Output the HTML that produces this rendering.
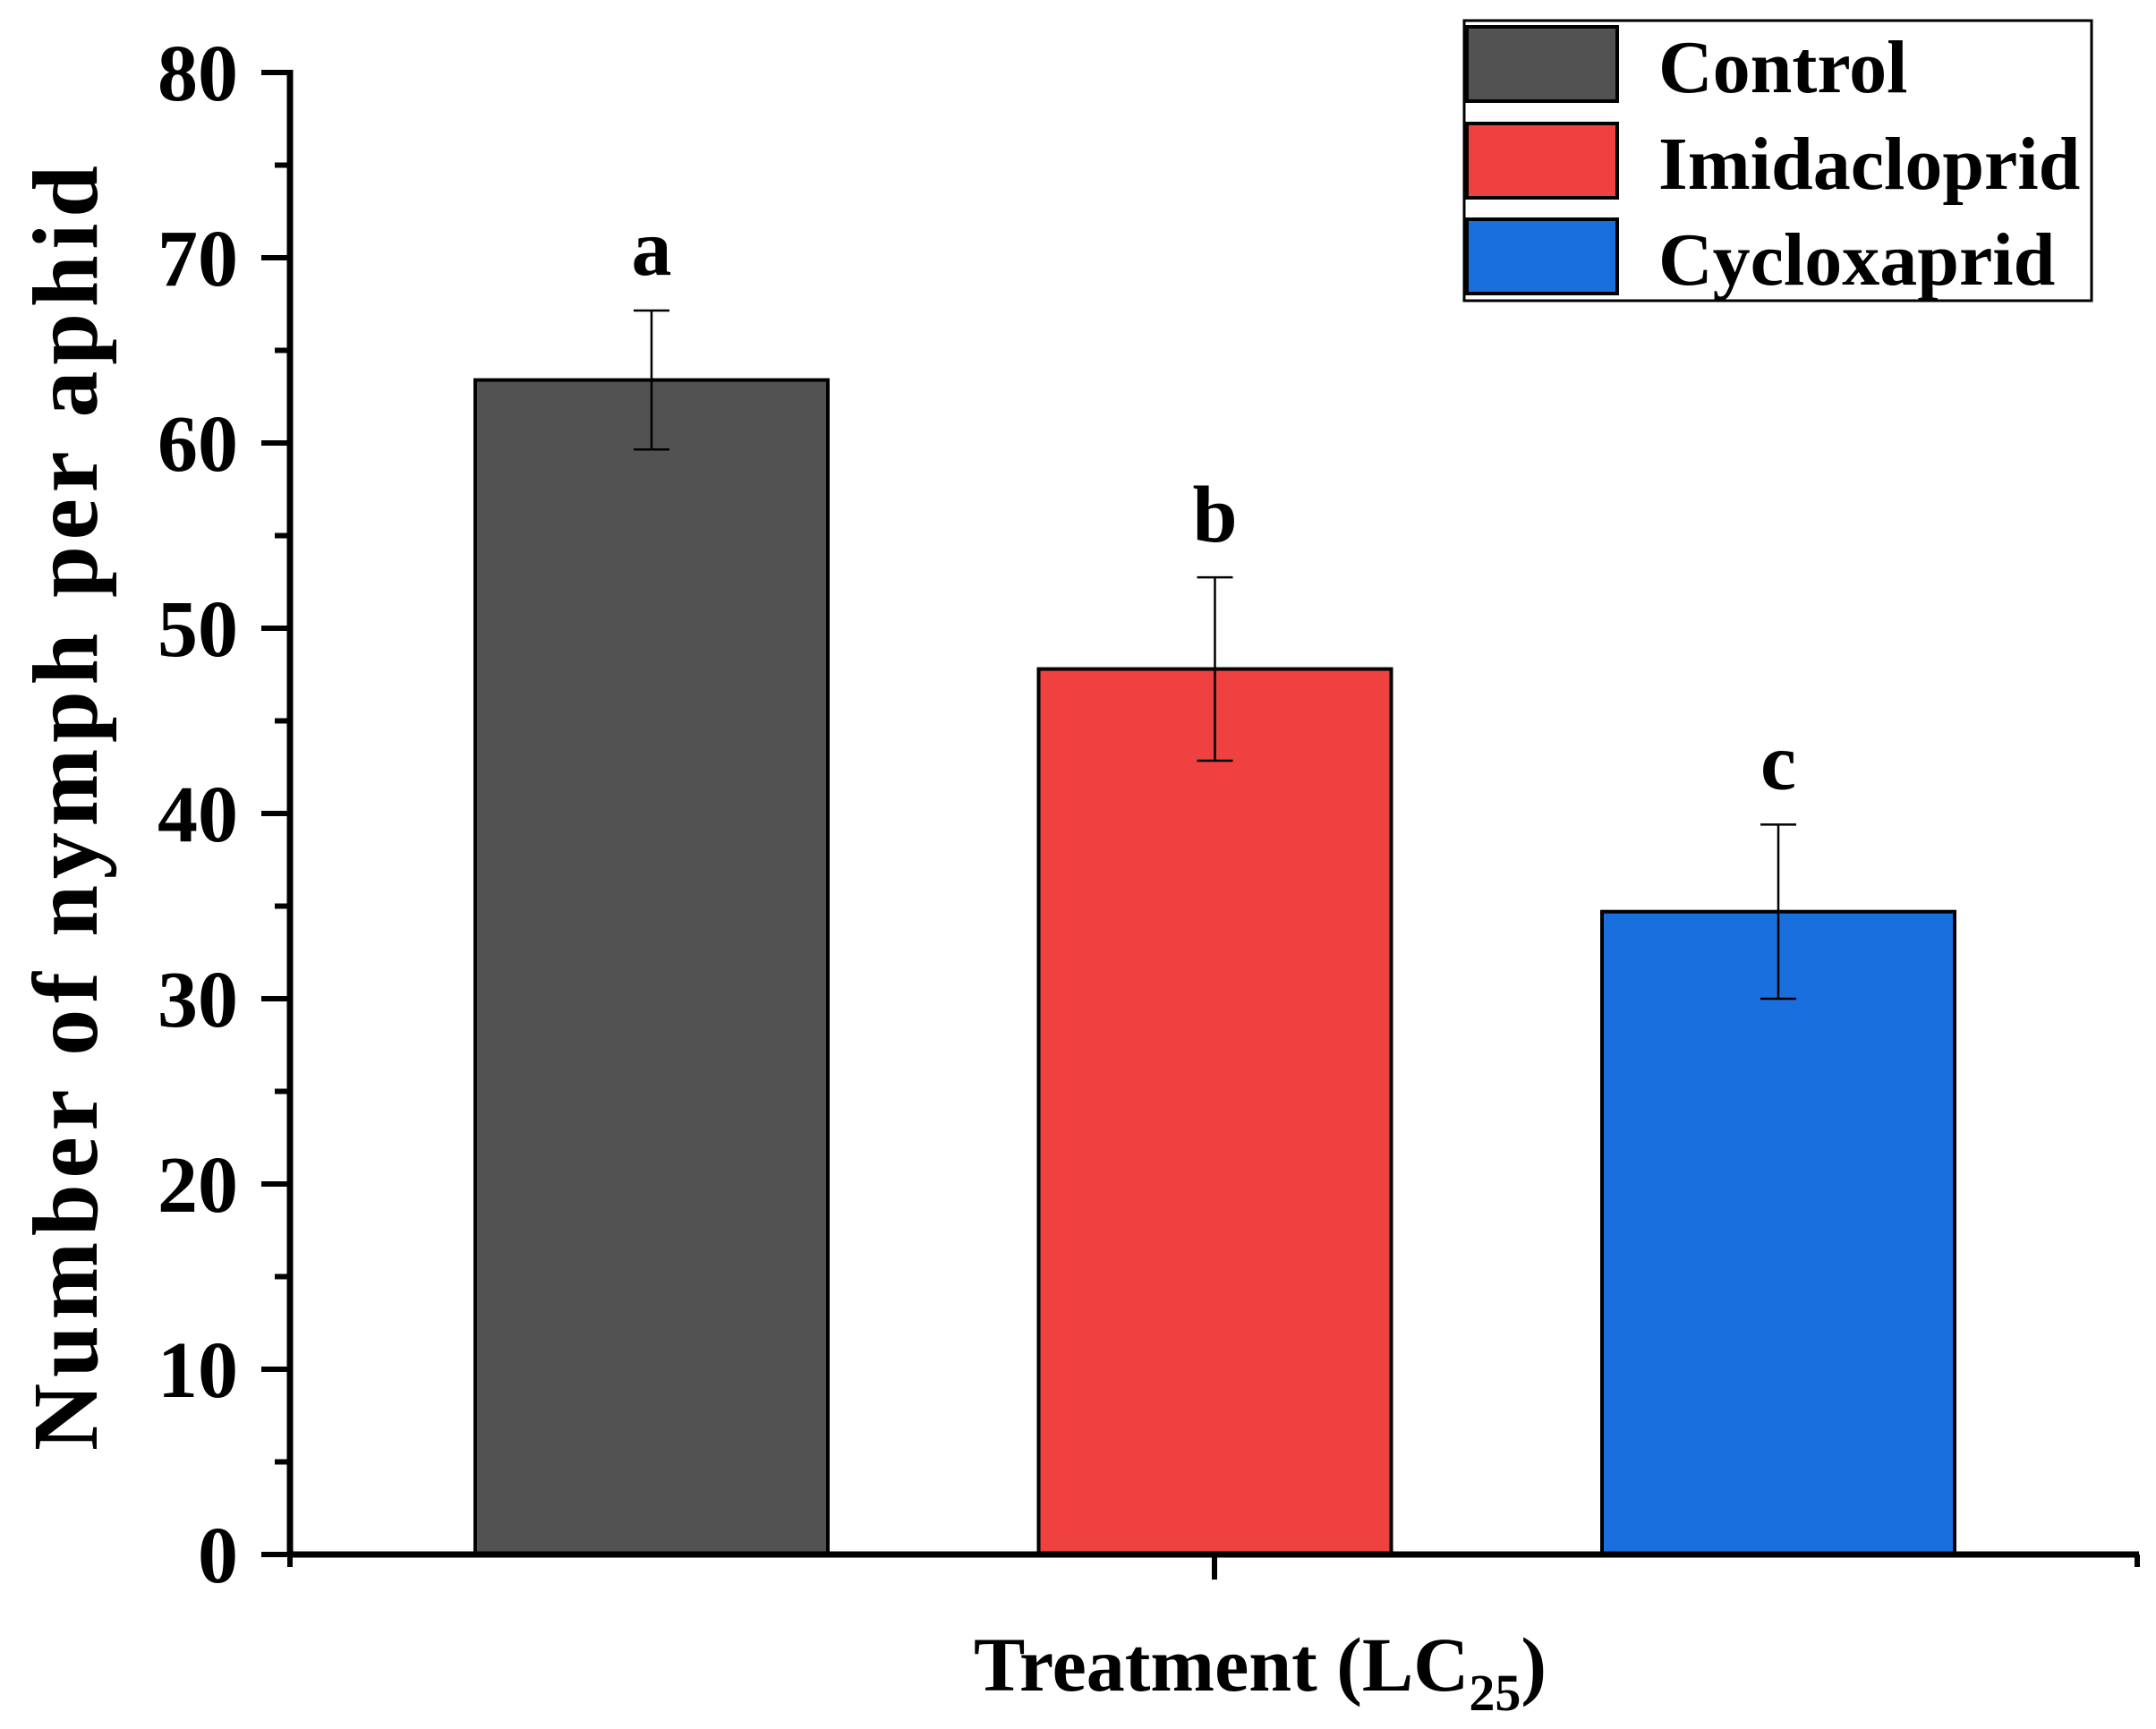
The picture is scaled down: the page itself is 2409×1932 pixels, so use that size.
<!DOCTYPE html>
<html><head><meta charset="utf-8"><style>
html,body{margin:0;padding:0;background:#fff;}
svg{display:block;font-family:"Liberation Serif",serif;font-weight:bold;}
</style></head><body>
<svg id="chart" width="2409" height="1932" viewBox="0 0 2409 1932">
<g id="plot"></g>
<text transform="translate(108,903) rotate(-90)" text-anchor="middle" font-size="104" textLength="1436" lengthAdjust="spacing">Number of nymph per aphid</text>
<text x="1408" y="1889" text-anchor="middle" font-size="86">Treatment (LC<tspan font-size="58" dy="22">25</tspan><tspan dy="-22">)</tspan></text>
<g>
<rect x="1636" y="23" width="701" height="313" fill="#fff" stroke="#000" stroke-width="3"/>
<rect x="1639" y="30" width="168" height="83" fill="#525252" stroke="#000" stroke-width="4"/>
<text x="1853" y="103" font-size="84">Control</text>
<rect x="1639" y="138" width="168" height="83" fill="#f04141" stroke="#000" stroke-width="4"/>
<text x="1853" y="211" font-size="84">Imidacloprid</text>
<rect x="1639" y="245" width="168" height="83" fill="#1a6fdf" stroke="#000" stroke-width="4"/>
<text x="1853" y="318" font-size="84">Cycloxaprid</text>
</g>
</svg>
<script>
const categories = ["Control", "Imidacloprid", "Cycloxaprid"];
const means = [63.4, 47.8, 34.7];
const errors = [3.75, 4.95, 4.7];
const letters = ["a", "b", "c"];
const yTicks = [0, 10, 20, 30, 40, 50, 60, 70, 80];
const colors = ["#525252", "#f04141", "#1a6fdf"];

const NS = "http://www.w3.org/2000/svg";
const X0 = 324, X1 = 2390, Y0 = 1737, Y80 = 81;
const yScale = v => Y0 - (v / 80) * (Y0 - Y80);
const xCenter = i => 728 + i * 629.5;
const barW = 394;
const plot = document.getElementById("plot");
function mk(tag, attrs) {
  const e = document.createElementNS(NS, tag);
  for (const k in attrs) e.setAttribute(k, attrs[k]);
  plot.appendChild(e);
  return e;
}
categories.forEach((c, i) => {
  const cx = xCenter(i), top = yScale(means[i]);
  const r = mk("rect", {x: cx - barW / 2, y: top, width: barW, height: Y0 - top, fill: colors[i], stroke: "#000", "stroke-width": 4});
  
  
  const hi = yScale(means[i] + errors[i]), lo = yScale(means[i] - errors[i]);
  const v = mk("line", {x1: cx, x2: cx, y1: hi, y2: lo, stroke: "#000", "stroke-width": 2.5});
  
  
  [hi, lo].forEach(yy => {
    const cap = mk("line", {x1: cx - 20, x2: cx + 20, y1: yy, y2: yy, stroke: "#000", "stroke-width": 2.5});
    
    
  });
  const t = mk("text", {x: cx, y: hi - 40, "text-anchor": "middle", "font-size": 90});
  t.textContent = letters[i];
  
  
});
yTicks.forEach((v, i) => {
  const y = yScale(v);
  const tk = mk("line", {x1: 292, x2: X0, y1: y, y2: y, stroke: "#000", "stroke-width": 6});
  
  
  const lb = mk("text", {x: 266, y: y + 31, "text-anchor": "end", "font-size": 90});
  lb.textContent = v;
  
  
  if (i < yTicks.length - 1) {
    const ym = yScale(v + 5);
    const mt = mk("line", {x1: 307, x2: X0, y1: ym, y2: ym, stroke: "#000", "stroke-width": 6});
    
    
  }
});
const ya = mk("line", {x1: X0, x2: X0, y1: Y80 - 3, y2: Y0 + 3, stroke: "#000", "stroke-width": 7});


const xa = mk("line", {x1: X0 - 3, x2: X1, y1: Y0, y2: Y0, stroke: "#000", "stroke-width": 7});


[X0, 1357, X1 - 2].forEach(x => {
  const t = mk("line", {x1: x, x2: x, y1: Y0, y2: Y0 + (x === 1357 ? 28 : 14), stroke: "#000", "stroke-width": 6});
  
  
});
</script>
</body></html>
